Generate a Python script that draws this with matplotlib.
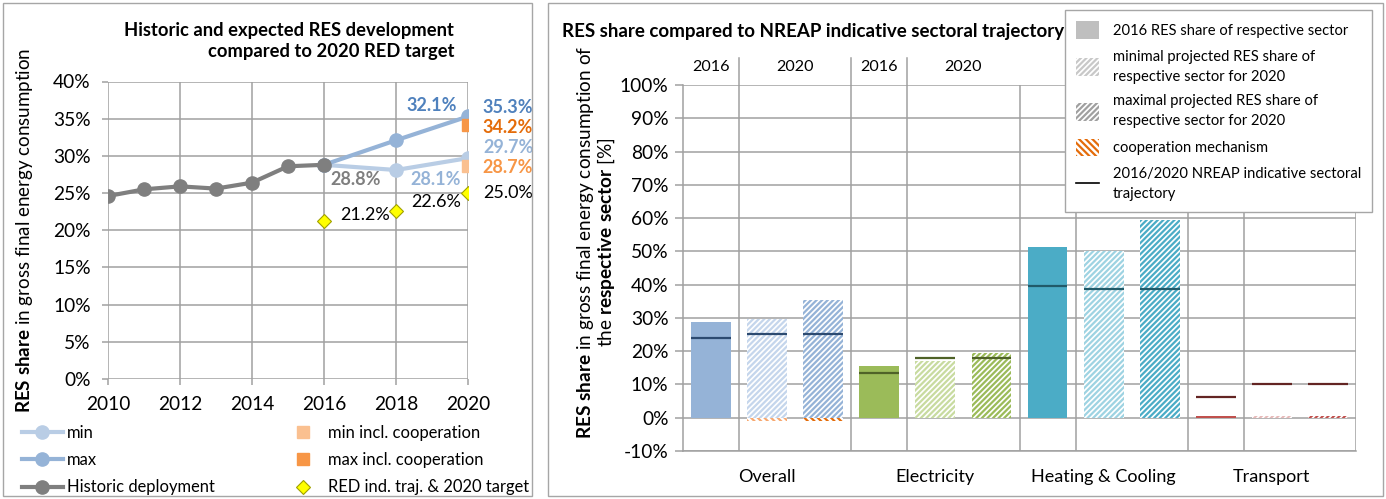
import matplotlib
matplotlib.use('Agg')

import matplotlib.pyplot as plt
import matplotlib.patches as mpatches
from matplotlib.lines import Line2D
import matplotlib.ticker as mticker

# ── Style ──────────────────────────────────────────────────────────────
plt.rcParams.update({
    'font.family': ['Lato', 'DejaVu Sans'],
    'font.size': 13,
    'mathtext.fontset': 'custom',
    'mathtext.rm': 'Lato',
    'mathtext.bf': 'Lato:bold',
    'mathtext.it': 'Lato:italic',
    'hatch.linewidth': 1.6,
    'axes.linewidth': 1.1,
})

GRID = '#A0A0A0'
W, H = 1386, 499

# ── Data: left panel (overall RES share, %) ───────────────────────────
hist_years = [2010, 2011, 2012, 2013, 2014, 2015, 2016]
hist_share = [24.6, 25.5, 25.9, 25.6, 26.4, 28.6, 28.8]

proj_years = [2016, 2018, 2020]
min_share = [28.8, 28.1, 29.7]
max_share = [28.8, 32.1, 35.3]

coop_year = [2020]
min_coop = [28.7]
max_coop = [34.2]

red_years = [2016, 2018, 2020]
red_traj = [21.2, 22.6, 25.0]

# ── Data: right panel (sector shares, %) ──────────────────────────────
sectors = ['Overall', 'Electricity', 'Heating & Cooling', 'Transport']
share_2016 = [28.8, 15.4, 51.2, 0.5]
share_2020_min = [29.7, 17.0, 50.0, 0.4]
share_2020_max = [35.3, 19.5, 59.3, 0.4]
coop_2020_min = [-1.0, 0.0, 0.0, 0.0]
coop_2020_max = [-1.1, 0.0, 0.0, 0.0]
nreap_2016 = [24.0, 13.4, 39.6, 6.1]
nreap_2020 = [25.2, 17.9, 38.6, 10.0]

sector_colors = ['#95B3D7', '#9BBB59', '#4BACC6', '#C0504D']
sector_light = ['#C5D6EC', '#C8DBA0', '#9ED3E2', '#E6B9B8']
sector_dark = ['#2C4A70', '#4F6228', '#215A69', '#632523']

# ── Figure ────────────────────────────────────────────────────────────
fig = plt.figure(figsize=(W / 100, H / 100), dpi=100)


def fx(px):
    return px / W


def fy(py):
    return 1 - py / H


# panel frames
for x0, x1 in [(3, 532), (548, 1383)]:
    fig.add_artist(mpatches.Rectangle((fx(x0), fy(496)), fx(x1) - fx(x0), fy(3) - fy(496),
                                      transform=fig.transFigure, fill=False,
                                      edgecolor='#A6A6A6', linewidth=1.0))

# ── Left panel ────────────────────────────────────────────────────────
ax = fig.add_axes([fx(108), fy(379), fx(468) - fx(108), fy(81.5) - fy(379)])
ax.set_xlim(2010, 2020)
ax.set_ylim(0, 40)
ax.xaxis.set_major_locator(mticker.MultipleLocator(2))
ax.yaxis.set_major_locator(mticker.MultipleLocator(5))
ax.yaxis.set_major_formatter(mticker.FuncFormatter(lambda v, p: f'{v:.0f}%'))
ax.grid(True, color=GRID, linewidth=1.1)
ax.set_axisbelow(True)
for s in ax.spines.values():
    s.set_visible(False)
ax.tick_params(axis='both', length=4.5, color=GRID, width=1.1, labelsize=13.8)
ax.tick_params(axis='x', pad=8)
ax.tick_params(axis='y', pad=8)

c_hist, c_min, c_max = '#7F7F7F', '#B9CDE5', '#95B3D7'
ax.plot(proj_years, min_share, color=c_min, lw=3, marker='o', ms=9.5, zorder=3)
ax.plot(proj_years, max_share, color=c_max, lw=3, marker='o', ms=9.5, zorder=3)
ax.plot(hist_years, hist_share, color=c_hist, lw=3, marker='o', ms=9.5, zorder=4)
ax.plot(coop_year, min_coop, ls='none', marker='s', ms=9, color='#FAC090', zorder=5)
ax.plot(coop_year, max_coop, ls='none', marker='s', ms=9, color='#F79646', zorder=5)
ax.plot(red_years, red_traj, ls='none', marker='D', ms=7.5, mfc='#FFFF00',
        mec='#A0A000', mew=0.8, zorder=5)


def lab(x, y, txt, dx, dy, color, bold=True, ha='left'):
    ax.annotate(txt, (x, y), xytext=(dx, dy), textcoords='offset pixels',
                ha=ha, va='center', fontsize=13, color=color,
                fontweight='bold' if bold else 'normal', annotation_clip=False)


lab(2016, hist_share[-1], f'{hist_share[-1]:.1f}%', 32, -14.5, c_hist, ha='center')
lab(2018, min_share[1], f'{min_share[1]:.1f}%', 39.5, -9, c_max, ha='center')
lab(2018, max_share[1], f'{max_share[1]:.1f}%', 36, 35, '#4F81BD', ha='center')
lab(2020, max_share[2], f'{max_share[2]:.1f}%', 14, 9, '#4F81BD')
lab(2020, max_coop[0], f'{max_coop[0]:.1f}%', 14, -2.5, '#E46C0A')
lab(2020, min_share[2], f'{min_share[2]:.1f}%', 15, 11, c_max)
lab(2020, min_coop[0], f'{min_coop[0]:.1f}%', 14, -1.5, '#F79646')
lab(2020, red_traj[2], f'{red_traj[2]:.1f}%', 15, 0, 'black', bold=False)
lab(2018, red_traj[1], f'{red_traj[1]:.1f}%', 15, 9, 'black', bold=False)
lab(2016, red_traj[0], f'{red_traj[0]:.1f}%', 16, 6, 'black', bold=False)

fig.text(fx(454), fy(41), 'Historic and expected RES development\ncompared to 2020 RED target',
         ha='right', va='center', fontsize=13.2, fontweight='bold', linespacing=1.3,
         multialignment='right')
fig.text(fx(25), fy(230), r'$\mathbf{RES\ share}$ in gross final energy consumption',
         rotation=90, ha='center', va='center', fontsize=13.5)

col1_handles = [
    Line2D([], [], color=c_min, lw=3, marker='o', ms=9.5),
    Line2D([], [], color=c_max, lw=3, marker='o', ms=9.5),
    Line2D([], [], color=c_hist, lw=3, marker='o', ms=9.5),
]
col1_labels = ['min', 'max', 'Historic deployment']
col2_handles = [
    Line2D([], [], ls='none', marker='s', ms=9, color='#FAC090'),
    Line2D([], [], ls='none', marker='s', ms=9, color='#F79646'),
    Line2D([], [], ls='none', marker='D', ms=7.5, mfc='#FFFF00', mec='#A0A000', mew=0.8),
]
col2_labels = ['min incl. cooperation', 'max incl. cooperation', 'RED ind. traj. & 2020 target']
for hs, ls_, xpix in [(col1_handles, col1_labels, 22), (col2_handles, col2_labels, 283)]:
    fig.legend(hs, ls_, loc='upper left', bbox_to_anchor=(fx(xpix), fy(425)),
               frameon=False, fontsize=11.9, handlelength=2.48, handletextpad=0.24,
               labelspacing=0.68, borderpad=0, borderaxespad=0)

# ── Right panel ───────────────────────────────────────────────────────
bx = fig.add_axes([fx(683), fy(451), fx(1356) - fx(683), fy(85) - fy(451)])
bx.set_xlim(-0.5, 11.5)
bx.set_ylim(-10, 100)
bx.yaxis.set_major_locator(mticker.MultipleLocator(10))
bx.yaxis.set_major_formatter(mticker.FuncFormatter(lambda v, p: f'{v:.0f}%'))
bx.grid(True, axis='y', color=GRID, linewidth=1.1)
bx.set_axisbelow(True)
for k in ['top', 'right']:
    bx.spines[k].set_visible(False)
for k in ['left', 'bottom']:
    bx.spines[k].set_color(GRID)
bx.set_xticks([])
bx.tick_params(axis='y', length=6, color=GRID, width=1.1, labelsize=13.8, pad=4.5)

for xv in [0.5, 2.5, 3.5, 5.5, 6.5, 8.5, 9.5, 11.5]:
    bx.axvline(xv, color=GRID, lw=1.1, zorder=0.5)
for xv in [0.5, 2.5, 3.5]:
    bx.plot([xv, xv], [100, 108.2], color=GRID, lw=1.1, clip_on=False)

bw = 0.71
for i, sec in enumerate(sectors):
    x0 = 3 * i
    bx.bar(x0, share_2016[i], width=bw, color=sector_colors[i], zorder=2)
    bx.bar(x0 + 1, share_2020_min[i], width=bw, facecolor='white',
           edgecolor=sector_light[i], hatch='//////', linewidth=0, zorder=2)
    bx.bar(x0 + 2, share_2020_max[i], width=bw, facecolor='white',
           edgecolor=sector_colors[i], hatch='//////', linewidth=0, zorder=2)
    if coop_2020_min[i] != 0:
        bx.bar(x0 + 1, coop_2020_min[i], width=bw, facecolor='white',
               edgecolor='#F7A870', hatch='\\\\\\\\\\', linewidth=0, zorder=2)
    if coop_2020_max[i] != 0:
        bx.bar(x0 + 2, coop_2020_max[i], width=bw, facecolor='white',
               edgecolor='#E46C0A', hatch='\\\\\\\\\\', linewidth=0, zorder=2)
    bx.hlines(nreap_2016[i], x0 - bw / 2, x0 + bw / 2, color=sector_dark[i], lw=1.6, zorder=3)
    bx.hlines([nreap_2020[i], nreap_2020[i]], [x0 + 1 - bw / 2, x0 + 2 - bw / 2],
              [x0 + 1 + bw / 2, x0 + 2 + bw / 2], color=sector_dark[i], lw=1.6, zorder=3)
    bx.annotate(sec, (x0 + 1, -10), xytext=(0, -26), textcoords='offset pixels',
                ha='center', va='center', fontsize=13, annotation_clip=False)

for i in range(2):
    x0 = 3 * i
    bx.annotate('2016', (x0, 100), xytext=(0, 18), textcoords='offset pixels',
                ha='center', va='center', fontsize=11.6, annotation_clip=False)
    bx.annotate('2020', (x0 + 1.5, 100), xytext=(0, 18), textcoords='offset pixels',
                ha='center', va='center', fontsize=11.6, annotation_clip=False)

fig.text(fx(562), fy(31), 'RES share compared to NREAP indicative sectoral trajectory',
         ha='left', va='center', fontsize=13.5, fontweight='bold')
fig.text(fx(596), fy(242),
         r'$\mathbf{RES\ share}$ in gross final energy consumption of' + '\n'
         + r'the $\mathbf{respective\ sector}$ [%]',
         rotation=90, ha='center', va='center', fontsize=13.7, linespacing=0.95,
         multialignment='center')

leg_handles = [
    mpatches.Patch(facecolor='#BFBFBF', edgecolor='none'),
    mpatches.Patch(facecolor='white', edgecolor='#C8C8C8', hatch='//////', linewidth=0),
    mpatches.Patch(facecolor='white', edgecolor='#A0A0A0', hatch='//////', linewidth=0),
    mpatches.Patch(facecolor='white', edgecolor='#E46C0A', hatch='\\\\\\\\\\', linewidth=0),
    Line2D([], [], color='black', lw=1.2),
]
leg_labels = ['2016 RES share of respective sector',
              'minimal projected RES share of\nrespective sector for 2020',
              'maximal projected RES share of\nrespective sector for 2020',
              'cooperation mechanism',
              '2016/2020 NREAP indicative sectoral\ntrajectory']
leg = fig.legend(leg_handles, leg_labels, loc='upper left', bbox_to_anchor=(fx(1065), fy(10)),
                 fontsize=10.6, frameon=True, fancybox=False, edgecolor='#A6A6A6',
                 framealpha=1, handlelength=1.55, handleheight=1.45, handletextpad=0.9,
                 labelspacing=0.72, borderpad=0.78, borderaxespad=0)
leg.get_frame().set_linewidth(1.0)
for t in leg.get_texts():
    t.set_linespacing(1.55)

fig.savefig('out.png', dpi=100)
